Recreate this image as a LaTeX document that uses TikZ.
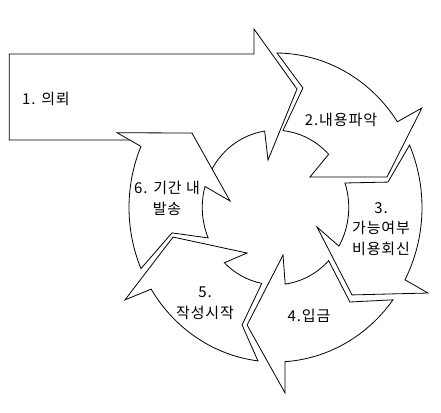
\documentclass[tikz,border=0pt]{standalone}
\usepackage{fontspec}
\setmainfont{Noto Sans CJK KR}[LetterSpace=6]
\begin{document}
\begin{tikzpicture}[x=1pt,y=1pt,
  arrowline/.style={draw=black, line width=0.8pt, fill=white, line join=miter},
  lbl/.style={font=\fontsize{15}{20.5}\selectfont, align=center, inner sep=0pt}]
\useasboundingbox[fill=white] (0,0) rectangle (441,412);
% big straight arrow (1)
\coordinate (b1) at (9,358);
\coordinate (b2) at (254,358);
\coordinate (b3) at (254,383);
\coordinate (b4) at (297,323);
\coordinate (b5) at (268,252);
\coordinate (b6) at (150,272);
\coordinate (b7) at (9,272);
\begin{scope}[shift={(275.5,204.5)}, xscale=146.5, yscale=154.5]
  % arrow 1
  \draw[arrowline] (b1) -- (b2) -- (b3) -- (b4) -- (b5) -- (98.5:0.5)
     arc[start angle=98.5, end angle=155, radius=0.5pt] -- (b6) -- (b7) -- cycle;
  % arrow 6
  \draw[arrowline] (203.3:1) arc[start angle=203.3, end angle=156.7, radius=1pt]
     -- (155.9:1.185) -- (139.8:0.747) -- (172.3:0.313) -- (164.2:0.5)
     arc[start angle=164.2, end angle=203.2, radius=0.5pt] -- (193.1:0.7255) -- cycle;
  % arrow 2
  \draw[arrowline] (89.4:1) arc[start angle=89.4, end angle=33.7, radius=1pt]
     -- (32.8:1.189) -- (14.5:0.786) -- (40.0:0.307) -- (43.5:0.5)
     arc[start angle=43.5, end angle=84.2, radius=0.5pt] -- (76.4:0.796) -- cycle;
  % arrow 3
  \draw[arrowline] (23.8:1) arc[start angle=23.8, end angle=-27.9, radius=1pt]
     -- (-28.0:1.179) -- (-47.3:0.770) -- (-24.0:0.310) -- (-30.0:0.5)
     arc[start angle=-30.0, end angle=18.5, radius=0.5pt] -- (12.1:0.785) -- cycle;
  % arrow 4
  \draw[arrowline] (-36.7:1) arc[start angle=-36.7, end angle=-86.3, radius=1pt]
     -- (-86.9:1.202) -- (-104.3:0.785) -- (-80.5:0.312) -- (-82.4:0.5)
     arc[start angle=-82.4, end angle=-43.5, radius=0.5pt] -- (-50.3:0.795) -- cycle;
  % arrow 5
  \draw[arrowline] (-96.9:1) arc[start angle=-96.9, end angle=-148.1, radius=1pt]
     -- (-149.8:1.189) -- (-164.7:0.725) -- (-123.4:0.353) -- (-134.3:0.5)
     arc[start angle=-134.3, end angle=-100.8, radius=0.5pt] -- (-106.7:0.794) -- cycle;
\end{scope}
% labels
\node[lbl, anchor=west] (t1) at (22,313) {1. 의뢰};
\node[lbl] (t2) at (341,292) {2.내용파악};
\node[lbl] (t3) at (381,183) {3.\\가능여부\\비용회신};
\node[lbl] (t4) at (309,96) {4.입금};
\node[lbl] (t5) at (205,109) {5.\\작성시작};
\node[lbl] (t6) at (167,213.5) {6. 기간 내\\발송};
\end{tikzpicture}
\end{document}
